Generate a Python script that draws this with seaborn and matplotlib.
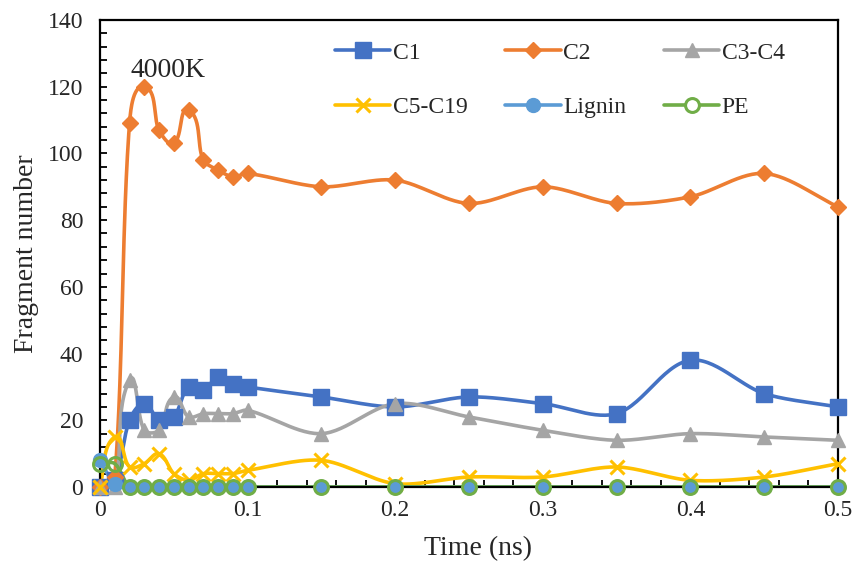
import numpy as np
import pandas as pd
import matplotlib
matplotlib.use("Agg")
import matplotlib.pyplot as plt
from matplotlib.lines import Line2D
from matplotlib.ticker import MultipleLocator
import seaborn as sns

# Data
time = [0, 0.01, 0.02, 0.03, 0.04, 0.05, 0.06, 0.07, 0.08, 0.09, 0.1,
        0.15, 0.2, 0.25, 0.3, 0.35, 0.4, 0.45, 0.5]
c1 = [0, 2, 20, 25, 20, 21, 30, 29, 33, 31, 30, 27, 24, 27, 25, 22, 38, 28, 24]
c2 = [0, 3, 109, 120, 107, 103, 113, 98, 95, 93, 94, 90, 92, 85, 90, 85, 87, 94, 84]
c3_c4 = [0, 0, 32, 17, 17, 27, 21, 22, 22, 22, 23, 16, 25, 21, 17, 14, 16, 15, 14]
c5_c19 = [0, 15, 6, 7, 10, 4, 2, 4, 4, 4, 5, 8, 1, 3, 3, 6, 2, 3, 7]
lignin = [8, 1, 0, 0, 0, 0, 0, 0, 0, 0, 0, 0, 0, 0, 0, 0, 0, 0, 0]
pe = [7, 7, 0, 0, 0, 0, 0, 0, 0, 0, 0, 0, 0, 0, 0, 0, 0, 0, 0]

series = [
    ("C1", c1, "#4472C4", "s", 11, False),
    ("C2", c2, "#ED7D31", "D", 8.5, False),
    ("C3-C4", c3_c4, "#A5A5A5", "^", 10.5, False),
    ("C5-C19", c5_c19, "#FFC000", "x", 10, False),
    ("Lignin", lignin, "#5B9BD5", "o", 10, False),
    ("PE", pe, "#70AD47", "o", 10, True),
]

sns.set_style("white")
plt.rcParams["font.family"] = ["Liberation Serif", "DejaVu Serif"]
plt.rcParams["xtick.direction"] = "in"
plt.rcParams["ytick.direction"] = "in"

fig = plt.figure(figsize=(8.55, 5.66), dpi=100)
ax = fig.add_axes([100 / 855, 1 - 487 / 566, 738 / 855, 467 / 566])
ax.set_xlim(0, 0.5)
ax.set_ylim(0, 140)


def smooth(x, y, k=0.3, n=30):
    # Excel-like smoothed line, control points built in screen space
    p = ax.transData.transform(np.column_stack([x, y]).astype(float))
    pts = []
    for i in range(len(p) - 1):
        p0 = p[i - 1] if i > 0 else p[i]
        p1, p2 = p[i], p[i + 1]
        p3 = p[i + 2] if i + 2 < len(p) else p[i + 1]
        seg_len = np.hypot(*(p2 - p1))
        d1 = p2 - p0
        d2 = p3 - p1
        d1 = d1 / (np.hypot(*d1) or 1)
        d2 = d2 / (np.hypot(*d2) or 1)
        b1 = p1 + d1 * seg_len * k
        b2 = p2 - d2 * seg_len * k
        t = np.linspace(0, 1, n, endpoint=False)[:, None]
        seg = ((1 - t) ** 3) * p1 + 3 * ((1 - t) ** 2) * t * b1 + 3 * (1 - t) * t ** 2 * b2 + t ** 3 * p2
        pts.append(seg)
    pts.append(p[-1:])
    pts = ax.transData.inverted().transform(np.vstack(pts))
    return pd.DataFrame({"x": pts[:, 0], "y": pts[:, 1]})


handles = []
for name, vals, color, marker, ms, hollow in series:
    curve = smooth(time, vals)
    sns.lineplot(data=curve, x="x", y="y", sort=False, estimator=None,
                 color=color, linewidth=2.6, ax=ax, zorder=2)
    mew = 2.2 if marker == "x" or hollow else 1
    ax.plot(time, vals, linestyle="none", marker=marker, markersize=ms,
            color=color, markerfacecolor="none" if hollow else color,
            markeredgecolor=color, markeredgewidth=mew, zorder=3, clip_on=False)
    handles.append(Line2D([], [], color=color, linewidth=2.6, marker=marker,
                          markersize=ms, markerfacecolor="white" if hollow else color,
                          markeredgecolor=color, markeredgewidth=mew, label=name))

ax.set_xticks([0, 0.1, 0.2, 0.3, 0.4, 0.5])
ax.set_xticklabels(["0", "0.1", "0.2", "0.3", "0.4", "0.5"])
ax.xaxis.set_minor_locator(MultipleLocator(0.02))
ax.yaxis.set_major_locator(MultipleLocator(20))
ax.yaxis.set_minor_locator(MultipleLocator(4))
ax.tick_params(which="both", direction="in", length=5, width=1.3,
               labelsize=17, color="black", left=True, bottom=True)
ax.tick_params(axis="x", which="major", pad=9)
ax.tick_params(axis="y", which="major", pad=12)
for s in ax.spines.values():
    s.set_visible(True)
    s.set_color("black")
    s.set_linewidth(1.6)

ax.set_xlabel("Time (ns)", fontsize=20)
ax.set_ylabel("Fragment number", fontsize=20)
ax.xaxis.set_label_coords((478 - 100) / 738, (487 - 536) / 467)
ax.yaxis.set_label_coords((39 - 100) / 738, 0.5)
ax.text(0.046, 125, "4000K", fontsize=20, ha="center", va="center")

order = [0, 3, 1, 4, 2, 5]
ax.legend([handles[i] for i in order], [handles[i].get_label() for i in order],
          ncol=3, frameon=False, fontsize=17, loc="upper left",
          bbox_to_anchor=(335 / 855, 1 - 42 / 566), bbox_transform=fig.transFigure,
          handlelength=2.35, handletextpad=0.1, columnspacing=1.6,
          labelspacing=1.4, borderpad=0, borderaxespad=0)

fig.savefig("out.png", dpi=100)
